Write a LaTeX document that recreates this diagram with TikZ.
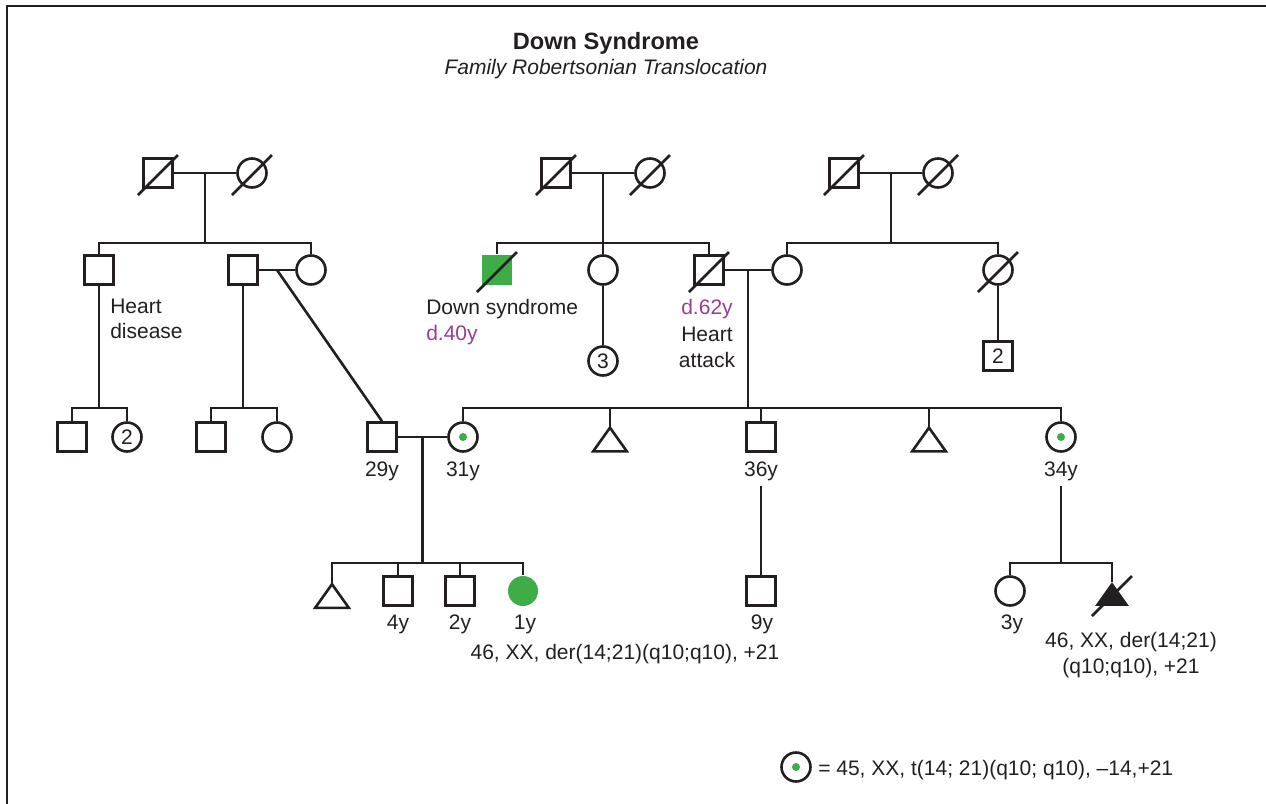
\documentclass[tikz,border=0pt]{standalone}
\usepackage{fontspec}
\setmainfont{Liberation Sans}
\usetikzlibrary{calc}

\definecolor{ink}{RGB}{35,31,32}
\definecolor{dsgreen}{RGB}{62,173,72}
\definecolor{dspurple}{RGB}{152,60,152}

\tikzset{
    muz/.style={draw, rectangle, minimum size=14.5pt, inner sep=0pt},
    zena/.style={draw, circle, minimum size=14.5pt, inner sep=0pt},
    nevi/.style={rectangle, minimum width=15.5pt, minimum height=10.5pt, inner sep=0pt},
    nositel/.style={zena, path picture={\fill[dsgreen] (path picture bounding box.center) circle (2pt);}},
    popis/.style={anchor=base, inner sep=0pt},
}

\begin{document}
\begin{tikzpicture}[x=0.5pt, y=-0.5pt, line width=1.3pt, color=ink,
        font=\fontsize{10.5}{12.5}\selectfont]
        \useasboundingbox (0,0) rectangle (1266,804);
        % rámeček
        \draw[line width=1.1pt] (7,804) -- (7,6) -- (1266,6);

        % nadpis
        \node[popis, font=\fontsize{11.8}{14}\selectfont\bfseries] (nadpis) at (606,49) {Down Syndrome};
        \node[popis, font=\fontsize{10.5}{12.5}\selectfont\itshape] (podnadpis) at (606,74) {Family Robertsonian Translocation};

        % první generace
        \node[muz] (A1) at (158,173) {};
        \node[zena] (A2) at (252,173) {};
        \node[muz] (B1) at (556,173) {};
        \node[zena] (B2) at (650,173) {};
        \node[muz] (C1) at (844,173) {};
        \node[zena] (C2) at (938,173) {};

        % druhá generace
        \node[muz] (A3) at (99,270) {};
        \node[muz] (S1) at (243,270) {};
        \node[zena] (A4) at (311,270) {};
        \node[muz, draw=none, fill=dsgreen, minimum size=15pt] (B3) at (497,270) {};
        \node[zena] (B4) at (603,270) {};
        \node[muz] (B5) at (709,270) {};
        \node[zena] (C3) at (787,270) {};
        \node[zena] (C4) at (998,270) {};

        \node[muz] (A5) at (72,437) {};
        \node[zena] (A6) at (127,437) {2};
        \node[muz] (S2) at (211,437) {};
        \node[zena] (S3) at (277,437) {};
        \node[zena] (B6) at (603,361) {3};
        \node[muz] (C5) at (998,356) {2};

        % třetí generace
        \node[muz] (D1) at (382,437) {};
        \node[nositel] (E1) at (463,437) {};
        \node[nevi] (E2) at (610,439.5) {};
        \node[muz] (E3) at (761,437) {};
        \node[nevi] (E4) at (929,439.5) {};
        \node[nositel] (E5) at (1061,437) {};

        % čtvrtá generace
        \node[nevi] (F1) at (332,596) {};
        \node[muz] (F2) at (398,591) {};
        \node[muz] (F3) at (460,591) {};
        \node[zena, draw=none, fill=dsgreen, minimum size=15pt] (F4) at (523,591) {};
        \node[muz] (G1) at (761,591) {};
        \node[zena] (H1) at (1010,591) {};
        \node[nevi] (H2) at (1112,594) {};

        % trojúhelníky
        \foreach \n in {E2,E4,F1}
            \draw (\n.south west) -- (\n.north) -- (\n.south east) -- cycle;
        \fill (H2.south west) -- (H2.north) -- (H2.south east) -- cycle;

        % zemřelí
        \foreach \n in {A1,A2,B1,B2,C1,C2,B3,B5,C4,H2}
            \draw (\n.center) ++(-20,22) -- ++(40,-40);

        % rodina A
        \draw (A1) -- (A2);
        \coordinate (mA) at ($(A1.east)!0.5!(A2.west)$);
        \coordinate (sA) at (mA |- 0,243);
        \draw (mA) -- (sA);
        \draw (A3.north) |- (sA) -| (A4.north);
        \coordinate (kA) at (A3 |- 0,408);
        \draw (A3) -- (kA);
        \draw (A5.north) |- (kA) -| (A6.north);

        \draw (S1) -- (A4);
        \coordinate (mS) at ($(S1.east)!0.5!(A4.west)$);
        \draw (mS) -- (D1.north);
        \coordinate (kS) at (S1 |- 0,408);
        \draw (S1) -- (kS);
        \draw (S2.north) |- (kS) -| (S3.north);

        % rodina B
        \draw (B1) -- (B2);
        \coordinate (mB) at ($(B1.east)!0.5!(B2.west)$);
        \coordinate (sB) at (mB |- 0,243);
        \draw (mB) -- (B4);
        \draw (B3.north) |- (sB) -| (B5.north);
        \draw (B4) -- (B6);

        % rodina C
        \draw (C1) -- (C2);
        \coordinate (mC) at ($(C1.east)!0.5!(C2.west)$);
        \coordinate (sC) at (mC |- 0,243);
        \draw (mC) -- (sC);
        \draw (C3.north) |- (sC) -| (C4.north);
        \draw (C4) -- (C5);

        % děti B5 a C3
        \draw (B5) -- (C3);
        \coordinate (mBC) at ($(B5.east)!0.5!(C3.west)$);
        \coordinate (sE) at (mBC |- 0,408);
        \draw (mBC) -- (sE);
        \draw (E1.north) |- (sE) -| (E5.north);
        \foreach \n in {E2,E3,E4}
            \draw (\n.north) -- (\n.north |- sE);

        % děti D1 a E1
        \draw (D1) -- (E1);
        \coordinate (mD) at ($(D1.east)!0.5!(E1.west)$);
        \coordinate (sF) at (mD |- 0,563);
        \draw (mD) -- (sF);
        \draw (F1.north) |- (sF) -| (F4.north);
        \foreach \n in {F2,F3}
            \draw (\n.north) -- (\n.north |- sF);

        % věk
        \node[popis] (D1v) at (382,476) {29y};
        \node[popis] (E1v) at (463,476) {31y};
        \node[popis] (E3v) at (761,476) {36y};
        \node[popis] (E5v) at (1061,476) {34y};
        \draw ([yshift=-2pt]E3v.south) -- (G1);
        \coordinate (sH) at (E5 |- 0,563);
        \draw ([yshift=-2pt]E5v.south) -- (sH);
        \draw (H1.north) |- (sH) -| (H2.north);

        \node[popis] (F2v) at (398,629) {4y};
        \node[popis] (F3v) at (460,629) {2y};
        \node[popis] (F4v) at (525,629) {1y};
        \node[popis] (G1v) at (762,629) {9y};
        \node[popis] (H1v) at (1012,629) {3y};

        % popisky
        \node[popis, anchor=base west] (A3t1) at (109,313) {Heart};
        \node[popis, anchor=base west] (A3t2) at (109,338) {disease};
        \node[popis, anchor=base west] (B3t1) at (425,314) {Down syndrome};
        \node[popis, anchor=base west, text=dspurple] (B3t2) at (425,340) {d.40y};
        \node[popis, text=dspurple] (B5t1) at (707,314) {d.62y};
        \node[popis] (B5t2) at (707,341) {Heart};
        \node[popis] (B5t3) at (707,367) {attack};

        \node[popis] (F4k) at (625,659) {46, XX, der(14;21)(q10;q10), +21};
        \node[popis] (H2k1) at (1131,647) {46, XX, der(14;21)};
        \node[popis] (H2k2) at (1131,673) {(q10;q10), +21};

        % legenda
        \node[nositel] (L) at (796,767) {};
        \node[popis, anchor=base west] (Lt) at (817,775) {= 45, XX, t(14; 21)(q10; q10), –14,+21};
    \end{tikzpicture}
\end{document}
